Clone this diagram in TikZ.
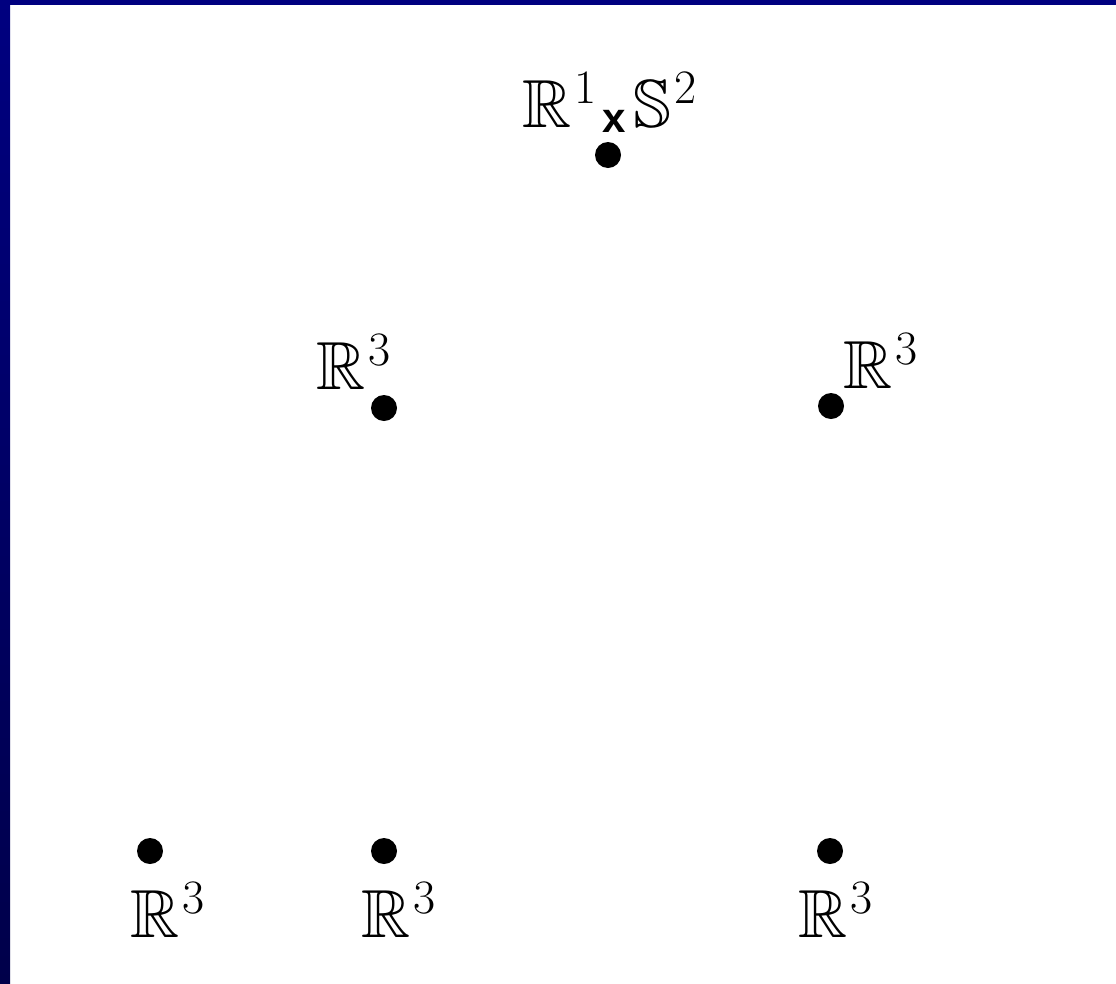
\documentclass[tikz,border=0pt]{standalone}
\usepackage{amssymb}
\usepackage{fontspec}
\newfontfamily\xfont{Liberation Sans}
\definecolor{navytop}{RGB}{0,0,128}
\definecolor{navybot}{RGB}{0,0,74}
\newcommand\mysup[1]{\hspace{3pt}\raisebox{24pt}{\fontsize{48}{50}\selectfont #1}}
\tikzset{
  pt/.style={circle, fill=black, inner sep=0pt, minimum size=26pt},
  lab/.style={inner sep=0pt, outer sep=0pt, anchor=base west, font=\fontsize{68}{80}\selectfont},
}
\begin{document}
\begin{tikzpicture}[x=1pt,y=-1pt]
\useasboundingbox (0,0) rectangle (1116,983);
\fill[white] (0,0) rectangle (1116,983);
\shade[top color=navytop, bottom color=navybot] (0,0) rectangle (10,983);
\fill[navytop] (0,0) rectangle (1116,5);
% dots
\node[pt] (top) at (608,155) {};
\node[pt] (ml) at (384,408) {};
\node[pt] (mr) at (831,406) {};
\node[pt] (b1) at (150,851) {};
\node[pt] (b2) at (384,851) {};
\node[pt] (b3) at (830,851) {};
% labels
\node[lab] (ltop) at (522,127) {$\mathbb{R}$\mysup{1}\hspace{6pt}\raisebox{-5pt}{\fontsize{42}{48}\xfont\bfseries x}\hspace{8pt}$\mathbb{S}$\mysup{2}};
\node[lab] (lml) at (316,389) {$\mathbb{R}$\mysup{3}};
\node[lab] (lmr) at (843,388) {$\mathbb{R}$\mysup{3}};
\node[lab] (lb1) at (130,937) {$\mathbb{R}$\mysup{3}};
\node[lab] (lb2) at (361,937) {$\mathbb{R}$\mysup{3}};
\node[lab] (lb3) at (798,937) {$\mathbb{R}$\mysup{3}};
\end{tikzpicture}
\end{document}
